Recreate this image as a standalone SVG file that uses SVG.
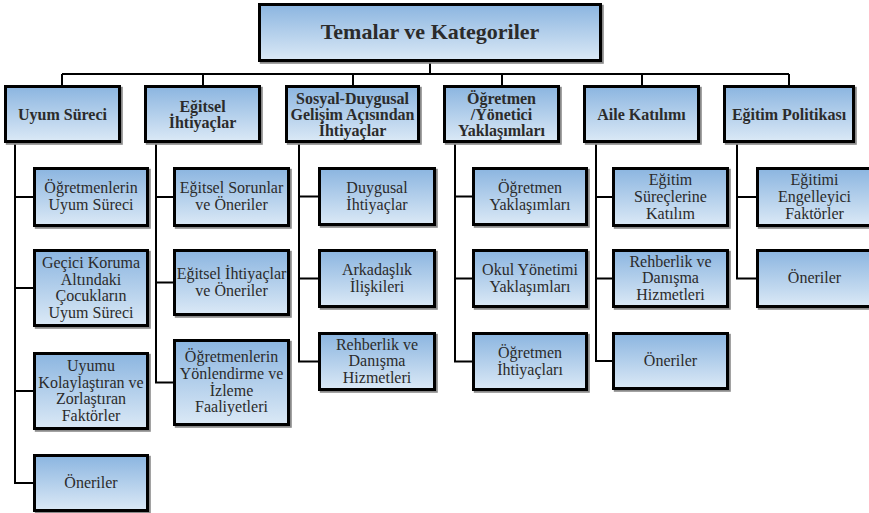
<svg xmlns="http://www.w3.org/2000/svg" width="869" height="513" viewBox="0 0 869 513">
<defs>
<linearGradient id="g" x1="0" y1="0" x2="0" y2="1">
<stop offset="0" stop-color="#8bb5e0"/>
<stop offset="1" stop-color="#dbe9f6"/>
</linearGradient>
<filter id="sh" x="-5%" y="-5%" width="115%" height="115%">
<feDropShadow dx="1.8" dy="1.8" stdDeviation="0.3" flood-color="#8a8a8a" flood-opacity="1"/>
</filter>
</defs>
<style>
.b{fill:url(#g);stroke:#000;stroke-width:3;filter:url(#sh)}
.t{font-family:"Liberation Serif","Times New Roman",serif;fill:#2b2b2b;text-anchor:middle}
.h{font-size:16px;font-weight:bold}
.c{font-size:16px}
.ti{font-size:22px;font-weight:bold}
.l{fill:none;stroke:#000;stroke-width:2}
</style>
<rect width="869" height="513" fill="#fff"/>
<g id="connectors">
<path class="l" d="M430,62V74M62,74H789M62,74V85M203,74V85M353,74V85M502,74V85M642,74V85M789,74V85"/>
<path class="l" d="M15,143V483H33M15,197H33M15,288H33M15,391H33"/>
<path class="l" d="M156,143V382.5H173M156,197H173M156,282.5H173"/>
<path class="l" d="M299,143V361.5H318M299,196.5H318M299,278.5H318"/>
<path class="l" d="M455,143V361.5H472M455,196.5H472M455,278.5H472"/>
<path class="l" d="M596,143V361H612M596,197H612M596,278.5H612"/>
<path class="l" d="M737,143V278.5H756M737,197H756"/>
</g>
<g id="title"><rect class="b" x="259.5" y="4.5" width="341" height="56"/><text class="t ti" x="430" y="39">Temalar ve Kategoriler</text></g>
<g id="h1"><rect class="b" x="5.5" y="86.5" width="114" height="55"/><text class="t h" x="62.5" y="120">Uyum Süreci</text></g>
<g id="h2"><rect class="b" x="145.5" y="86.5" width="114" height="55"/><text class="t h"><tspan x="202.5" y="112">Eğitsel</tspan><tspan x="202.5" y="128">İhtiyaçlar</tspan></text></g>
<g id="h3"><rect class="b" x="286.5" y="86.5" width="132" height="55"/><text class="t h"><tspan x="352.5" y="104">Sosyal-Duygusal</tspan><tspan x="352.5" y="120">Gelişim Açısından</tspan><tspan x="352.5" y="136">İhtiyaçlar</tspan></text></g>
<g id="h4"><rect class="b" x="444.5" y="86.5" width="114" height="55"/><text class="t h"><tspan x="501.5" y="104">Öğretmen</tspan><tspan x="501.5" y="120">/Yönetici</tspan><tspan x="501.5" y="136">Yaklaşımları</tspan></text></g>
<g id="h5"><rect class="b" x="584.5" y="86.5" width="114" height="55"/><text class="t h" x="641.5" y="120">Aile Katılımı</text></g>
<g id="h6"><rect class="b" x="724.5" y="86.5" width="129" height="55"/><text class="t h" x="789" y="120">Eğitim Politikası</text></g>

<g id="c1a"><rect class="b" x="34.5" y="168.5" width="113" height="57"/><text class="t c"><tspan x="91" y="193.4">Öğretmenlerin</tspan><tspan x="91" y="210.2">Uyum Süreci</tspan></text></g>
<g id="c1b"><rect class="b" x="34.5" y="250.5" width="113" height="75"/><text class="t c"><tspan x="91" y="267.8">Geçici Koruma</tspan><tspan x="91" y="284.5">Altındaki</tspan><tspan x="91" y="301.2">Çocukların</tspan><tspan x="91" y="317.9">Uyum Süreci</tspan></text></g>
<g id="c1c"><rect class="b" x="34.5" y="353.5" width="113" height="75"/><text class="t c"><tspan x="91" y="370.8">Uyumu</tspan><tspan x="91" y="387.5">Kolaylaştıran ve</tspan><tspan x="91" y="404.2">Zorlaştıran</tspan><tspan x="91" y="420.9">Faktörler</tspan></text></g>
<g id="c1d"><rect class="b" x="34.5" y="455.5" width="113" height="55"/><text class="t c" x="91" y="487.8">Öneriler</text></g>

<g id="c2a"><rect class="b" x="174.5" y="168.5" width="114" height="57"/><text class="t c"><tspan x="231.5" y="193.4">Eğitsel Sorunlar</tspan><tspan x="231.5" y="210.2">ve Öneriler</tspan></text></g>
<g id="c2b"><rect class="b" x="174.5" y="250.5" width="114" height="64"/><text class="t c"><tspan x="231.5" y="279">Eğitsel İhtiyaçlar</tspan><tspan x="231.5" y="295.7">ve Öneriler</tspan></text></g>
<g id="c2c"><rect class="b" x="174.5" y="340.5" width="114" height="84"/><text class="t c"><tspan x="231.5" y="362.3">Öğretmenlerin</tspan><tspan x="231.5" y="379">Yönlendirme ve</tspan><tspan x="231.5" y="395.7">İzleme</tspan><tspan x="231.5" y="412.4">Faaliyetleri</tspan></text></g>

<g id="c3a"><rect class="b" x="319.5" y="168.5" width="115" height="56"/><text class="t c"><tspan x="377" y="193">Duygusal</tspan><tspan x="377" y="209.7">İhtiyaçlar</tspan></text></g>
<g id="c3b"><rect class="b" x="319.5" y="250.5" width="115" height="56"/><text class="t c"><tspan x="377" y="275">Arkadaşlık</tspan><tspan x="377" y="291.7">İlişkileri</tspan></text></g>
<g id="c3c"><rect class="b" x="319.5" y="333.5" width="115" height="56"/><text class="t c"><tspan x="377" y="349.6">Rehberlik ve</tspan><tspan x="377" y="366.3">Danışma</tspan><tspan x="377" y="383">Hizmetleri</tspan></text></g>

<g id="c4a"><rect class="b" x="473.5" y="168.5" width="113" height="56"/><text class="t c"><tspan x="530" y="193">Öğretmen</tspan><tspan x="530" y="209.7">Yaklaşımları</tspan></text></g>
<g id="c4b"><rect class="b" x="473.5" y="250.5" width="113" height="56"/><text class="t c"><tspan x="530" y="275">Okul Yönetimi</tspan><tspan x="530" y="291.7">Yaklaşımları</tspan></text></g>
<g id="c4c"><rect class="b" x="473.5" y="333.5" width="113" height="56"/><text class="t c"><tspan x="530" y="358">Öğretmen</tspan><tspan x="530" y="374.7">İhtiyaçları</tspan></text></g>

<g id="c5a"><rect class="b" x="613.5" y="168.5" width="114" height="57"/><text class="t c"><tspan x="670.5" y="185.1">Eğitim</tspan><tspan x="670.5" y="201.8">Süreçlerine</tspan><tspan x="670.5" y="218.5">Katılım</tspan></text></g>
<g id="c5b"><rect class="b" x="613.5" y="250.5" width="114" height="56"/><text class="t c"><tspan x="670.5" y="266.6">Rehberlik ve</tspan><tspan x="670.5" y="283.3">Danışma</tspan><tspan x="670.5" y="300">Hizmetleri</tspan></text></g>
<g id="c5c"><rect class="b" x="613.5" y="333.5" width="114" height="55"/><text class="t c" x="670.5" y="365.8">Öneriler</text></g>

<g id="c6a"><rect class="b" x="757.5" y="168.5" width="114" height="57"/><text class="t c"><tspan x="814.5" y="185.1">Eğitimi</tspan><tspan x="814.5" y="201.8">Engelleyici</tspan><tspan x="814.5" y="218.5">Faktörler</tspan></text></g>
<g id="c6b"><rect class="b" x="757.5" y="250.5" width="114" height="56"/><text class="t c" x="814.5" y="283.3">Öneriler</text></g>
</svg>
